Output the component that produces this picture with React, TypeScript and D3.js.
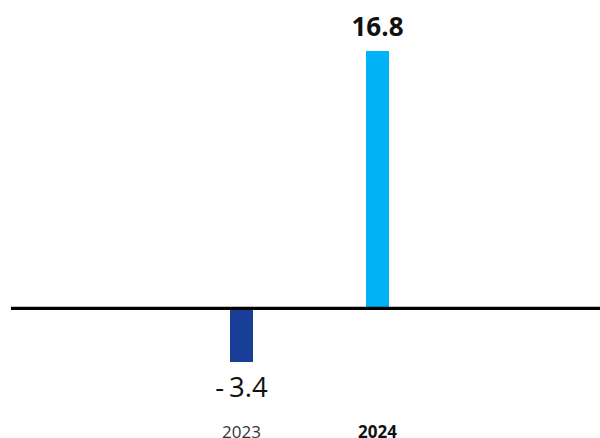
import React from "react";
import * as d3 from "d3";

const categories = ["2023", "2024"];
const values = [-3.4, 16.8];
const valueLabels = ["-3.4", "16.8"];
const colors = ["#183F97", "#00B3F4"];

export default function App() {
  const W = 600, H = 438;
  const x = d3
    .scaleBand<string>()
    .domain(categories)
    .range([173.5, 445.5])
    .paddingInner(1 - 23 / 136)
    .paddingOuter((1 - 23 / 136) / 2);
  const y = d3.scaleLinear().domain([0, 16.8]).range([308, 51]);
  const font = "'Open Sans', 'Noto Sans', sans-serif";
  return (
    <svg
      width={W}
      height={H}
      style={{ position: "absolute", left: 0, top: 0, background: "#fff" }}
    >
      {categories.map((c, i) => {
        const v = values[i];
        const x0 = x(c) as number;
        const bw = x.bandwidth();
        const cx = x0 + bw / 2;
        const top = Math.min(y(v), y(0));
        const h = Math.abs(y(v) - y(0)) + (v < 0 ? 2 : 0);
        return (
          <g key={c}>
            <rect x={x0} y={top} width={bw} height={h} fill={colors[i]} />
            {v >= 0 ? (
              <text
                x={cx}
                y={y(v) - 15}
                textAnchor="middle"
                fontFamily={font}
                fontWeight="bold"
                fontSize={26}
                fill="#111"
              >
                {valueLabels[i]}
              </text>
            ) : (
              <text
                x={cx}
                y={y(v) + 37}
                textAnchor="middle"
                fontFamily={font}
                fontSize={27.5}
                fill="#111"
              >
                <tspan>-</tspan>
                <tspan dx={5}>{valueLabels[i].replace("-", "")}</tspan>
              </text>
            )}
            <text
              x={cx}
              y={437.5}
              textAnchor="middle"
              fontFamily={font}
              fontSize={17}
              fontWeight={i === 1 ? "bold" : "normal"}
              fill={i === 1 ? "#111" : "#333"}
            >
              {c}
            </text>
          </g>
        );
      })}
      <line x1={11} x2={600} y1={y(0) + 0.3} y2={y(0) + 0.3} stroke="#000" strokeWidth={3.3} />
    </svg>
  );
}
